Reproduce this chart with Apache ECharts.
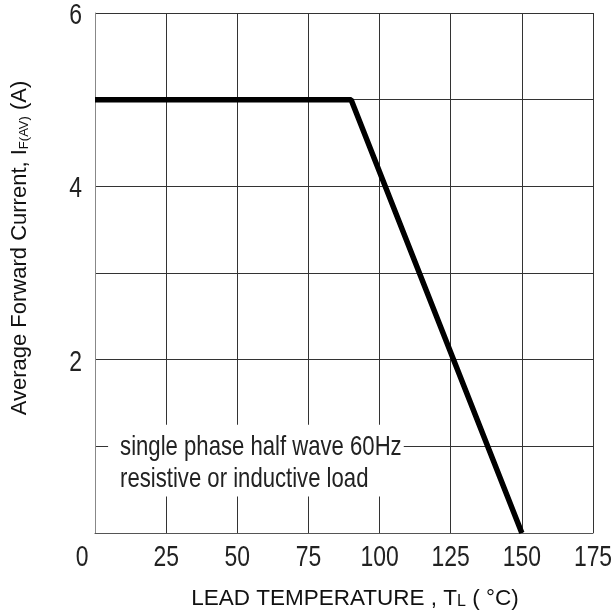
<!DOCTYPE html>
<html>
<head>
<meta charset="utf-8">
<script src="https://cdn.jsdelivr.net/npm/echarts@6/dist/echarts.min.js"></script>
<style>html,body{margin:0;padding:0;background:#fff}#c{width:615px;height:613px}</style>
</head>
<body>
<div id="c"></div>
<script>
// Data
const temperature = [0, 90, 150];
const current = [5, 5, 0];
const xTicks = [0, 25, 50, 75, 100, 125, 150, 175];
const yTickLabels = [2, 4, 6];
const noteLines = ['single phase half wave 60Hz', 'resistive or inductive load'];

const sans = '"Liberation Sans", Arial, sans-serif';
const NARROW = 0.79;

const chart = echarts.init(document.getElementById('c'));
chart.setOption({
  animation: false,
  backgroundColor: '#fff',
  grid: { left: 95, right: 22, top: 13, bottom: 80, containLabel: false, outerBoundsMode: 'none' },
  xAxis: {
    type: 'value', min: 0, max: 175, interval: 25,
    axisLine: { show: true, lineStyle: { color: '#555', width: 1 } },
    axisTick: { show: false },
    splitLine: { show: true, lineStyle: { color: '#333', width: 1 } },
    axisLabel: { show: false },
    name: 'LEAD TEMPERATURE , T{s|L} ( °C)',
    nameLocation: 'middle', nameGap: 54,
    nameTextStyle: { fontFamily: sans, fontSize: 22.5, color: '#111', padding: [0, 0, 0, 22],
      rich: { s: { fontFamily: sans, fontSize: 16, color: '#111', padding: [6, 0, 0, 0] } } }
  },
  yAxis: {
    type: 'value', min: 0, max: 6, interval: 1,
    axisLine: { show: true, lineStyle: { color: '#888', width: 1 } },
    axisTick: { show: false },
    splitLine: { show: true, lineStyle: { color: '#333', width: 1 } },
    axisLabel: { show: false },
    name: 'Average Forward Current, I{s|F(AV)} (A)',
    nameLocation: 'middle', nameGap: 64,
    nameTextStyle: { fontFamily: sans, fontSize: 22, color: '#111', padding: [0, 0, 0, 50],
      rich: { s: { fontFamily: sans, fontSize: 13, color: '#111', padding: [9, 0, 0, 0] } } }
  },
  series: [{
    type: 'line',
    data: temperature.map((t, i) => [t, current[i]]),
    symbol: 'none',
    lineStyle: { color: '#000', width: 5.5 },
    z: 5
  }]
});

function buildGraphics() {
  const g = [];
  // x tick labels via axis scale
  xTicks.forEach(v => {
    const p = chart.convertToPixel({ gridIndex: 0 }, [v, 0]);
    g.push({ type: 'text', x: p[0] + (v === 0 ? -13 : 0), y: p[1] + 25, scaleX: NARROW, z: 20,
      style: { text: String(v), fontFamily: sans, fontSize: 29, fill: '#222', align: 'center', verticalAlign: 'middle' } });
  });
  // y tick labels via axis scale
  yTickLabels.forEach(v => {
    const p = chart.convertToPixel({ gridIndex: 0 }, [0, v]);
    g.push({ type: 'text', x: p[0] - 13, y: p[1] + 3, scaleX: NARROW, z: 20,
      style: { text: String(v), fontFamily: sans, fontSize: 29, fill: '#222', align: 'right', verticalAlign: 'middle' } });
  });
  // annotation box
  const a = chart.convertToPixel({ gridIndex: 0 }, [4.6, 1.25]);
  const b = chart.convertToPixel({ gridIndex: 0 }, [108.5, 0.42]);
  g.push({ type: 'rect', z: 10, shape: { x: a[0], y: a[1], width: b[0] - a[0], height: b[1] - a[1] }, style: { fill: '#fff' } });
  noteLines.forEach((t, i) => {
    g.push({ type: 'text', z: 11, x: a[0] + 12, y: a[1] + 23 + i * 32, scaleX: NARROW,
      style: { text: t, fontFamily: sans, fontSize: 28, fill: '#222', align: 'left', verticalAlign: 'middle' } });
  });
  chart.setOption({ graphic: g });
}
buildGraphics();
</script>
</body>
</html>
